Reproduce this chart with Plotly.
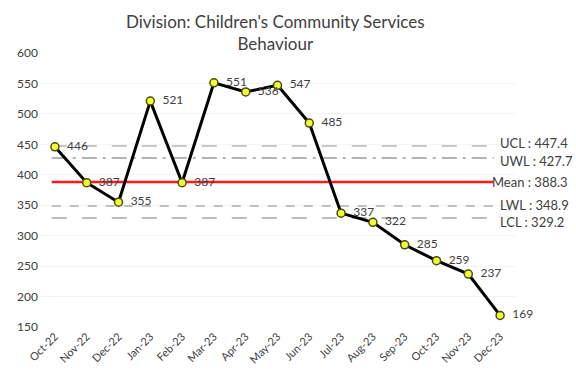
import plotly.graph_objects as go

# Monthly behaviour counts
months = ["Oct-22", "Nov-22", "Dec-22", "Jan-23", "Feb-23", "Mar-23", "Apr-23", "May-23",
          "Jun-23", "Jul-23", "Aug-23", "Sep-23", "Oct-23", "Nov-23", "Dec-23"]
values = [446, 387, 355, 521, 387, 551, 536, 547, 485, 337, 322, 285, 259, 237, 169]

# Control / warning limits
limit_names = ["UCL", "UWL", "Mean", "LWL", "LCL"]
limit_values = [447.4, 427.7, 388.3, 348.9, 329.2]
limit_colors = ["#c8c8c8", "#b4b4b4", "#ff1a1a", "#c0c0c0", "#bcbcbc"]
limit_dashes = ["longdash", "longdashdot", "solid", "dash", "longdash"]
limit_widths = [2, 2, 2.5, 2, 2]
# small vertical nudges (px) so neighbouring limit labels don't collide
label_shift = [3, -3, 0, 1, -4]

TEXT = "#404040"
FONT = "Lato, 'Open Sans', sans-serif"

L, R, T, B = 39, 60, 53, 46
W, H = 576, 373
plot_w = W - L - R
plot_h = H - T - B

fig = go.Figure()
idx = list(range(len(months)))

for name, val, col, dash, w, dy in zip(limit_names, limit_values, limit_colors,
                                        limit_dashes, limit_widths, label_shift):
    fig.add_trace(go.Scatter(
        x=[-0.1, len(months) - 1 - 0.2], y=[val, val], mode="lines",
        line=dict(color=col, dash=dash, width=w), hoverinfo="skip", showlegend=False))
    x_px = 490 if name == "Mean" else 498
    fig.add_annotation(
        x=(x_px - L) / plot_w, y=val, xref="paper", yref="y", text=f"{name} : {val:.1f}",
        showarrow=False, xanchor="left", yshift=dy,
        font=dict(family=FONT, size=13, color=TEXT))

fig.add_trace(go.Scatter(
    x=idx, y=values, mode="lines+markers+text",
    text=[f"  {v}" for v in values], textposition="middle right",
    textfont=dict(family=FONT, size=12, color=TEXT),
    line=dict(color="black", width=3),
    marker=dict(size=8, color="#f2ff33", line=dict(color="#4a4a10", width=1.5)),
    cliponaxis=False, showlegend=False))

fig.add_annotation(
    x=(275 - L) / plot_w, y=1 + (T - 9) / plot_h, xref="paper", yref="paper",
    xanchor="center", yanchor="top",
    text="Division: Children's Community Services<br>Behaviour", showarrow=False,
    font=dict(family=FONT, size=17, color=TEXT))

fig.update_layout(
    width=W, height=H,
    margin=dict(l=L, r=R, t=T, b=B, autoexpand=False),
    paper_bgcolor="white", plot_bgcolor="white",
    font=dict(family=FONT, color=TEXT),
    xaxis=dict(
        range=[-0.5, len(months) - 0.5], tickmode="array", tickvals=idx, ticktext=months,
        tickangle=-45, showgrid=False, zeroline=False, showline=False, ticks="",
        tickfont=dict(family=FONT, size=11, color=TEXT)),
    yaxis=dict(
        range=[150, 600], dtick=50, tick0=150, showgrid=True, gridcolor="#f4f4f4",
        zeroline=False, showline=False, ticks="",
        tickfont=dict(family=FONT, size=12, color=TEXT)),
)

fig.write_html("out.html")
